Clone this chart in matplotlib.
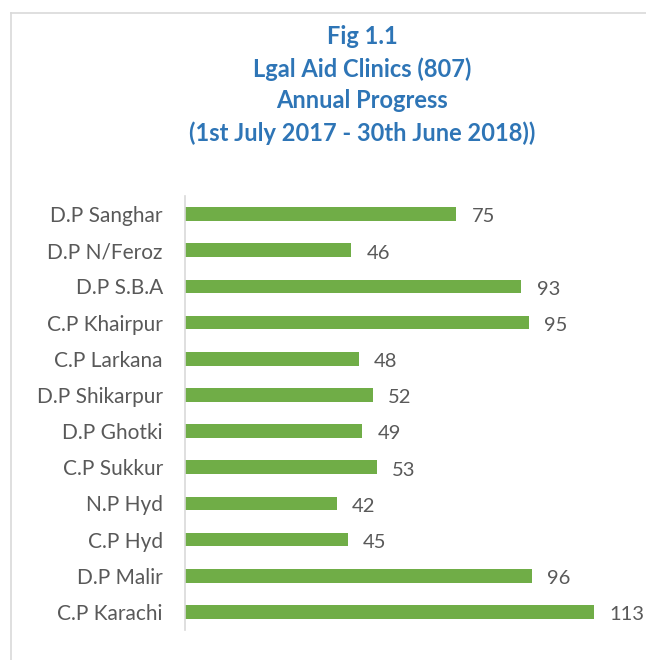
import matplotlib
matplotlib.use("Agg")
import matplotlib.pyplot as plt
from matplotlib.lines import Line2D

# data, top to bottom as in the figure
categories = [
    "D.P Sanghar", "D.P N/Feroz", "D.P S.B.A", "C.P Khairpur", "C.P Larkana",
    "D.P Shikarpur", "D.P Ghotki", "C.P Sukkur", "N.P Hyd", "C.P Hyd",
    "D.P Malir", "C.P Karachi",
]
clinics = [75, 46, 93, 95, 48, 52, 49, 53, 42, 45, 96, 113]
title_lines = [
    "Fig 1.1",
    "Lgal Aid Clinics (807)",
    "Annual Progress",
    "(1st July 2017 - 30th June 2018))",
]

BAR_GREEN = "#70AD47"
TITLE_BLUE = "#2E75B6"
TEXT_GREY = "#595959"
LINE_GREY = "#D9D9D9"

plt.rcParams["font.family"] = ["Lato", "DejaVu Sans"]

W, H = 646, 660
fig = plt.figure(figsize=(W / 100, H / 100), dpi=100)

# chart frame (only left and top edges are inside the crop)
fig.add_artist(Line2D([11 / W, 11 / W], [0, 1 - 13 / H], color=LINE_GREY, lw=1.2,
                      transform=fig.transFigure))
fig.add_artist(Line2D([11 / W, 1], [1 - 13 / H, 1 - 13 / H], color=LINE_GREY, lw=1.2,
                      transform=fig.transFigure))

ax = fig.add_axes([185 / W, 1 - 630 / H, 452 / W, 434 / H])

n = len(categories)
ypos = list(range(n - 1, -1, -1))
ax.barh(ypos, clinics, height=0.38, color=BAR_GREEN)
ax.set_xlim(0, 125)
ax.set_ylim(-0.5, n - 0.5)

ax.set_yticks(ypos)
ax.set_yticklabels(categories, fontsize=15, color=TEXT_GREY)
ax.tick_params(axis="y", length=0, pad=16)
ax.set_xticks([])

for s in ["top", "right", "bottom"]:
    ax.spines[s].set_visible(False)
ax.spines["left"].set_color(LINE_GREY)
ax.spines["left"].set_linewidth(1.2)

for y, v in zip(ypos, clinics):
    ax.annotate(str(v), (v, y), xytext=(11, -2), textcoords="offset points",
                ha="left", va="center", fontsize=14.5, color=TEXT_GREY)

for i, line in enumerate(title_lines):
    fig.text(362 / W, 1 - (37 + 32 * i) / H, line, ha="center", va="center",
             fontsize=17, fontweight="bold", color=TITLE_BLUE)

fig.savefig("out.png", dpi=100)
